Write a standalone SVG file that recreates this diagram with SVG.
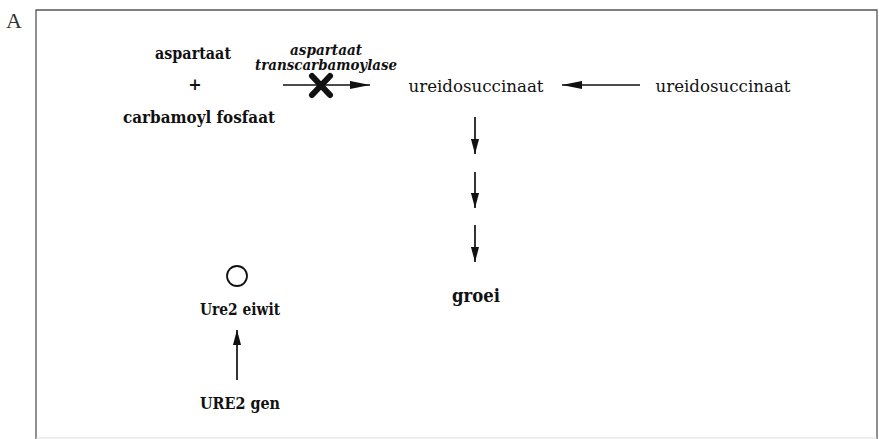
<svg xmlns="http://www.w3.org/2000/svg" width="879" height="439" viewBox="0 0 879 439">
<defs>
<style>
.t{font-family:"DejaVu Serif","Liberation Serif",serif;fill:#111}
.b{font-weight:bold}
.r{font-weight:normal}
.i{font-style:italic;font-weight:bold}
.ln{stroke:#111;stroke-width:1.7;fill:none}
</style>
<marker id="ah" viewBox="0 0 10 10" refX="10" refY="5" markerWidth="15" markerHeight="9" markerUnits="userSpaceOnUse" orient="auto" preserveAspectRatio="none">
<path d="M0,0.5 L10,5 L0,9.5 Z" fill="#111"/>
</marker>
<marker id="ahL" viewBox="0 0 10 10" refX="10" refY="5" markerWidth="20" markerHeight="9" markerUnits="userSpaceOnUse" orient="auto" preserveAspectRatio="none">
<path d="M0,0.5 L10,5 L0,9.5 Z" fill="#111"/>
</marker>
</defs>
<rect width="879" height="439" fill="#fff"/>
<text x="6" y="28" font-size="22" fill="#333" font-family="Liberation Serif, serif">A</text>
<path d="M36,439 L36,10 L877,10 L877,439" stroke="#555" stroke-width="1.3" fill="none"/>
<line x1="36" y1="438" x2="877" y2="438" stroke="#ddd" stroke-width="1"/>

<g id="aspartaat"><text class="t b" x="193" y="59" font-size="17" text-anchor="middle" textLength="76" lengthAdjust="spacingAndGlyphs">aspartaat</text></g>
<g id="plus"><text class="t b" x="195" y="90" font-size="16" text-anchor="middle">+</text></g>
<g id="carbamoyl"><text class="t b" x="199" y="123" font-size="17" text-anchor="middle" textLength="152" lengthAdjust="spacingAndGlyphs">carbamoyl fosfaat</text></g>
<g id="enzyme">
<text class="t i" x="326" y="55" font-size="14" text-anchor="middle" textLength="72" lengthAdjust="spacingAndGlyphs">aspartaat</text>
<text class="t i" x="326" y="70" font-size="14" text-anchor="middle" textLength="142" lengthAdjust="spacingAndGlyphs">transcarbamoylase</text>
</g>
<g id="ureido1"><text class="t r" x="476" y="92" font-size="17" text-anchor="middle" textLength="135" lengthAdjust="spacingAndGlyphs">ureidosuccinaat</text></g>
<g id="ureido2"><text class="t r" x="723" y="92" font-size="17" text-anchor="middle" textLength="135" lengthAdjust="spacingAndGlyphs">ureidosuccinaat</text></g>
<g id="groei"><text class="t b" x="476" y="302" font-size="19" text-anchor="middle" textLength="48" lengthAdjust="spacingAndGlyphs">groei</text></g>
<g id="ure2eiwit">
<circle cx="237" cy="276" r="10" fill="none" stroke="#111" stroke-width="1.8"/>
<text class="t b" x="240" y="315" font-size="16" text-anchor="middle" textLength="80" lengthAdjust="spacingAndGlyphs">Ure2 eiwit</text>
</g>
<g id="ure2gen"><text class="t b" x="240" y="409" font-size="17" text-anchor="middle" textLength="80" lengthAdjust="spacingAndGlyphs">URE2 gen</text></g>

<g id="connectors">
<line class="ln" x1="283" y1="85" x2="370" y2="85" marker-end="url(#ahL)"/>
<path d="M312,76 L330,95 M330,76 L312,95" stroke="#111" stroke-width="6" stroke-linecap="round"/>
<line class="ln" x1="640" y1="85" x2="562" y2="85" marker-end="url(#ahL)"/>
<line class="ln" x1="475" y1="117" x2="475" y2="154" marker-end="url(#ah)"/>
<line class="ln" x1="475" y1="172" x2="475" y2="208" marker-end="url(#ah)"/>
<line class="ln" x1="475" y1="225" x2="475" y2="262" marker-end="url(#ah)"/>
<line class="ln" x1="237" y1="380" x2="237" y2="330" marker-end="url(#ah)"/>
</g>
</svg>
